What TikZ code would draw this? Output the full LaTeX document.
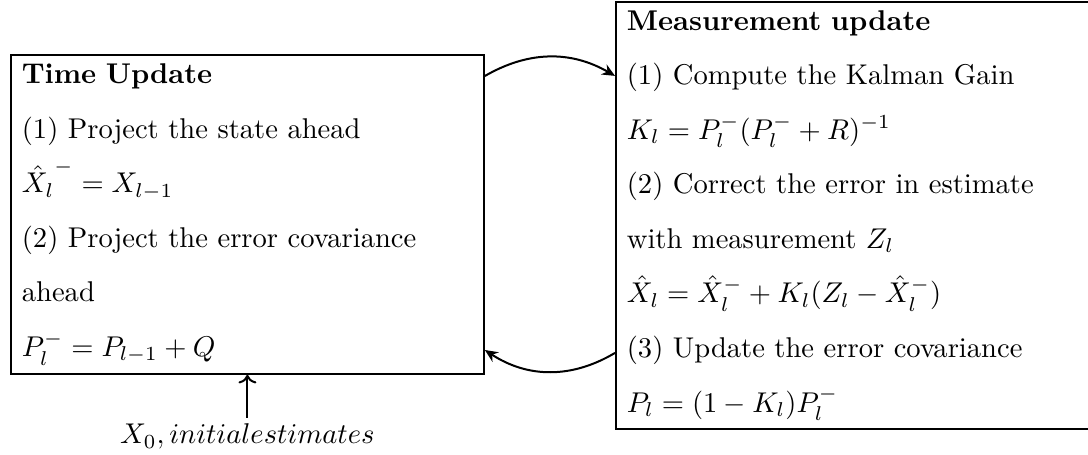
\documentclass[tikz,border=0pt]{standalone}
\usepackage{amsmath}
\usetikzlibrary{arrows.meta, positioning, calc}

\begin{document}
\begin{tikzpicture}[x=0.35pt, y=-0.35pt,
    stagebox/.style={draw, line width=0.6pt, anchor=north west, align=left,
        text width=157.9pt, inner xsep=3.85pt, inner ysep=0pt,
        font=\fontsize{10pt}{19.1pt}\selectfont},
    loopflow/.style={-{Stealth[length=4.5pt, width=4pt]}, line width=0.7pt}]
    \useasboundingbox (0,0) rectangle (1088,454);

    % Time update (left box)
    \node[stagebox, minimum height=111.7pt] (tu) at (10,54) {%
        \textbf{Time Update}\\
        (1) Project the state ahead\\
        $\hat{X_l}^{-}=X_{l-1}$\\
        (2) Project the error covariance\\
        ahead\\
        $P_l^-=P_{l-1}+Q$};

    % Measurement update (right box)
    \node[stagebox, minimum height=149.6pt] (mu) at (615,0.9) {%
        \textbf{Measurement update}\\
        (1) Compute the Kalman Gain\\
        $K_l=P_l^-(P_l^-+R)^{-1}$\\
        (2) Correct the error in estimate\\
        with measurement $Z_l$\\
        $\hat{X}_l=\hat{X}_l^-+K_l(Z_l-\hat{X}_l^-)$\\
        (3) Update the error covariance\\
        $P_l=(1-K_l)P_l^-$};

    % Loop between the two stages
    \draw[loopflow] ($(tu.north east)+(0,22)$) to[bend left=30] ($(mu.north west)+(0,75)$);
    \draw[loopflow] ($(mu.north west)+(0,352)$) to[bend left=32] ($(tu.north east)+(0,296)$);

    % Initial estimates
    \node[below=15pt of tu, inner sep=2pt, font=\fontsize{10pt}{12pt}\selectfont] (init) {$X_0, initial estimates$};
    \draw[-{To[length=3pt]}, line width=0.7pt] (init) -- (tu);
\end{tikzpicture}
\end{document}
